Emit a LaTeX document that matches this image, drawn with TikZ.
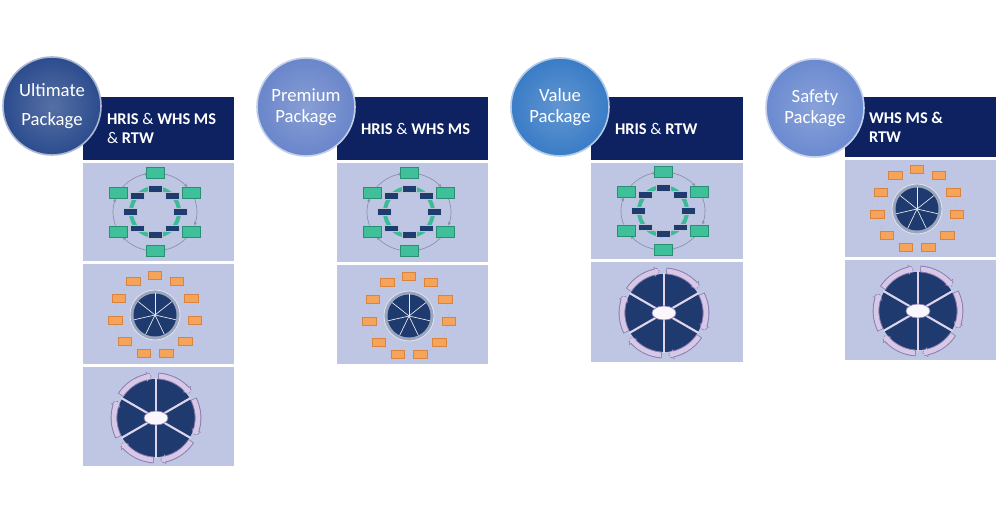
\documentclass[tikz,border=0pt]{standalone}
\usepackage{fontspec}
\setmainfont{Carlito}
\usetikzlibrary{arrows.meta}
\definecolor{navy}{HTML}{0E2262}
\definecolor{thumbbg}{HTML}{BEC6E4}
\definecolor{ultC}{HTML}{2C4C8E}
\definecolor{preC}{HTML}{6A86CA}
\definecolor{valC}{HTML}{3A7CC6}
\definecolor{safC}{HTML}{6B8AD0}
\definecolor{gfill}{HTML}{3FC09A}
\definecolor{gedge}{HTML}{2A8E72}
\definecolor{ringteal}{HTML}{3DBA98}
\definecolor{dbox}{HTML}{1F3C70}
\definecolor{ofill}{HTML}{F6A35C}
\definecolor{oedge}{HTML}{D9843E}
\definecolor{pienavy}{HTML}{1E3A6E}
\definecolor{rimgray}{HTML}{9AA6C0}
\definecolor{lav}{HTML}{D5C9E6}
\definecolor{lavedge}{HTML}{8C78B0}
\definecolor{arcgray}{HTML}{8890A8}
\tikzset{
  pkg/.style={circle, minimum size=73.5pt, inner sep=0pt, text=white, align=center,
    draw=#1!40!white, line width=1.2pt, shade, inner color=#1!80!white, outer color=#1},
  hdr/.style={fill=navy, inner sep=0pt, minimum width=113.25pt},
  hdrtext/.style={text=white, align=left, anchor=west, inner sep=0pt,
    font=\fontsize{12.3}{14.3}\selectfont},
  thumbbox/.style={fill=thumbbg},
  gbox/.style={fill=gfill, draw=gedge, line width=0.4pt, minimum width=13.5pt, minimum height=8pt, inner sep=0pt},
  dkbox/.style={fill=dbox, draw=white!70!dbox, line width=0.3pt, minimum width=10.5pt, minimum height=5pt, inner sep=0pt},
  obox/.style={fill=ofill, draw=oedge, line width=0.4pt, minimum width=10pt, minimum height=6pt, inner sep=0pt},
  cyclethumb/.pic={
    \foreach \a/\b in {80/40,20/-20,-40/-80,-100/-140,-160/-200,-220/-260}
      \draw[arcgray, line width=0.5pt, -{Stealth[length=2.5pt,width=2.5pt]}]
        plot[domain=\a:\b, samples=12, smooth] ({72+42*cos(\x)},{49-39*sin(\x)});
    \draw[ringteal, line width=3pt] (72,49) circle[radius=24];
    \foreach \a in {90,30,-30,-90,210,150}
      \node[gbox] at ({72+42*cos(\a)},{49-39*sin(\a)}) {};
    \foreach \a in {90,45,0,-45,-90,-135,180,135}
      \node[dkbox] at ({72+25*cos(\a)},{49-23*sin(\a)}) {};
  },
  orangethumb/.pic={
    \draw[arcgray!60, line width=0.3pt, dashed] (72,51) circle[radius=40];
    \foreach \k in {0,...,10}
      \node[obox] at ({72+40*cos(90-\k*360/11)},{51-40*sin(90-\k*360/11)}) {};
    \fill[rimgray, draw=white!70!rimgray, line width=0.6pt] (72,51) circle[radius=25];
    \fill[pienavy] (72,51) circle[radius=21.5];
    \foreach \k in {0,...,6}
      \draw[white!85!gray, line width=0.5pt] (72,51) -- ({72+21.5*cos(90+\k*360/7)},{51-21.5*sin(90+\k*360/7)});
  },
  rtwthumb/.pic={
    \fill[pienavy] (73,51) circle[radius=39];
    \foreach \s in {90,30,-30,-90,-150,150}{
      \draw[lavedge, line width=5pt, -{Triangle[width=7.5pt,length=4pt]}]
        plot[domain=\s+57:\s+6, samples=14, smooth] ({73+42*cos(\x)},{51-42*sin(\x)});
      \draw[lav, line width=3.6pt, shorten >=0.5pt, -{Triangle[width=5.6pt,length=3pt]}]
        plot[domain=\s+56:\s+6, samples=14, smooth] ({73+42*cos(\x)},{51-42*sin(\x)});
    }
    \foreach \a in {90,30,-30,-90,-150,150}
      \draw[lav!80!white, line width=1.6pt] (73,51) -- ({73+40*cos(\a)},{51-40*sin(\a)});
    \fill[white!85!lav, draw=lavedge, line width=0.5pt] (73,51) ellipse[x radius=12, y radius=7];
  }
}
\begin{document}
\begin{tikzpicture}[x=0.75pt,y=-0.75pt]
\useasboundingbox (0,0) rectangle (1000,523);
% header bars
\node[hdr, minimum height=47.25pt] (h1) at (158.5,128.5) {};
\node[hdr, minimum height=47.25pt] (h2) at (412.5,128.5) {};
\node[hdr, minimum height=47.25pt, minimum width=114pt] (h3) at (667,128.5) {};
\node[hdr, minimum height=45pt] (h4) at (920.5,127) {};
\node[hdrtext] (t1) at ([xshift=18pt]h1.west) {\textbf{HRIS} \& \textbf{WHS MS}\\\& \textbf{RTW}};
\node[hdrtext] (t2) at ([xshift=18pt]h2.west) {\textbf{HRIS} \& \textbf{WHS MS}};
\node[hdrtext] (t3) at ([xshift=18pt]h3.west) {\textbf{HRIS} \& \textbf{RTW}};
\node[hdrtext] (t4) at ([xshift=18pt,yshift=-0.5pt]h4.west) {\textbf{WHS MS \&}\\\textbf{RTW}};
% thumbnail backgrounds
\fill[thumbbox] (83,163) rectangle (234,261);
\fill[thumbbox] (83,264) rectangle (234,364);
\fill[thumbbox] (83,367) rectangle (234,466);
\fill[thumbbox] (337,163) rectangle (488,262);
\fill[thumbbox] (337,265) rectangle (488,364);
\fill[thumbbox] (591,163) rectangle (743,259);
\fill[thumbbox] (591,262) rectangle (743,362);
\fill[thumbbox] (845,160) rectangle (996,257);
\fill[thumbbox] (845,260) rectangle (996,360);
% thumbnail contents
\pic at (83,163) {cyclethumb};
\pic at (83,264) {orangethumb};
\pic at (83,367) {rtwthumb};
\pic at (337,163) {cyclethumb};
\pic at (337,265) {orangethumb};
\pic at (591,162) {cyclethumb};
\pic at (591,262) {rtwthumb};
\pic at (845,158) {orangethumb};
\pic at (845,260) {rtwthumb};
% package circles
\node[pkg=ultC, font=\fontsize{14}{21.7}\selectfont] (c1) at (52,106) {Ultimate\\Package};
\node[pkg=preC, font=\fontsize{14}{15.4}\selectfont] (c2) at (306,107) {Premium\\Package};
\node[pkg=valC, font=\fontsize{14}{15.4}\selectfont] (c3) at (560,107) {Value\\Package};
\node[pkg=safC, font=\fontsize{14}{15.4}\selectfont] (c4) at (815,108) {Safety\\Package};
\end{tikzpicture}
\end{document}
